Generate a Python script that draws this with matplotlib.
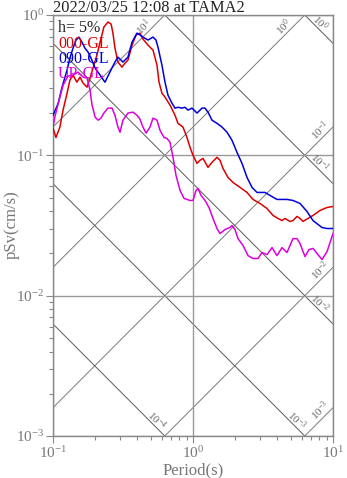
import numpy as np
import matplotlib
matplotlib.use("Agg")
import matplotlib.pyplot as plt
from matplotlib.ticker import LogLocator, NullFormatter

plt.rcParams["font.family"] = ["Liberation Serif", "DejaVu Serif"]
plt.rcParams["mathtext.fontset"] = "custom"
plt.rcParams["mathtext.rm"] = "Liberation Serif"
plt.rcParams["mathtext.it"] = "Liberation Serif:italic"

# ---- data (period in s, pSv in cm/s) ----
period_ns = [0.100, 0.105, 0.112, 0.118, 0.126, 0.132, 0.139, 0.148, 0.156, 0.164,
             0.175, 0.184, 0.193, 0.206, 0.217, 0.231, 0.247, 0.260, 0.268, 0.277,
             0.291, 0.311, 0.327, 0.343, 0.367, 0.392, 0.418, 0.439, 0.477, 0.518,
             0.553, 0.572, 0.600, 0.631, 0.685, 0.744, 0.781, 0.848, 0.906, 0.952,
             1.000, 1.068, 1.122, 1.179, 1.280, 1.367, 1.484, 1.560, 1.638, 1.778,
             1.931, 2.166, 2.431, 2.683, 3.011, 3.377, 3.728, 4.047, 4.322, 4.541,
             4.933, 5.179, 5.534, 5.812, 6.106, 6.628, 7.197, 8.076, 9.062, 10.0]
psv_ns = [0.156, 0.134, 0.159, 0.210, 0.277, 0.343, 0.373, 0.332, 0.361, 0.327,
          0.306, 0.355, 0.418, 0.518, 0.641, 0.821, 0.891, 0.862, 0.743, 0.581,
          0.462, 0.425, 0.454, 0.477, 0.610, 0.720, 0.743, 0.674, 0.610, 0.562,
          0.439, 0.332, 0.277, 0.260, 0.228, 0.193, 0.169, 0.159, 0.134, 0.114,
          0.100, 0.0876, 0.0921, 0.0951, 0.0821, 0.0891, 0.0968, 0.0921, 0.0807, 0.0696,
          0.0641, 0.0591, 0.0544, 0.0485, 0.0454, 0.0418, 0.0373, 0.0355, 0.0343, 0.0355,
          0.0338, 0.0343, 0.0367, 0.0355, 0.0338, 0.0355, 0.0373, 0.0405, 0.0425, 0.0432]

period_ew = [0.100, 0.109, 0.116, 0.120, 0.126, 0.132, 0.139, 0.146, 0.153, 0.161,
             0.169, 0.178, 0.187, 0.200, 0.217, 0.235, 0.255, 0.277, 0.291, 0.316,
             0.343, 0.367, 0.398, 0.418, 0.439, 0.477, 0.518, 0.544, 0.562, 0.600,
             0.631, 0.663, 0.708, 0.744, 0.781, 0.834, 0.877, 0.921, 0.984, 1.068,
             1.160, 1.218, 1.280, 1.367, 1.484, 1.612, 1.750, 1.899, 2.062, 2.239,
             2.431, 2.639, 2.866, 3.267, 3.548, 3.981, 4.692, 5.179, 5.812, 6.520,
             7.197, 8.345, 9.062, 10.0]
psv_ew = [0.193, 0.235, 0.306, 0.343, 0.405, 0.493, 0.581, 0.663, 0.696, 0.641,
          0.581, 0.544, 0.493, 0.418, 0.373, 0.332, 0.392, 0.462, 0.501, 0.462,
          0.501, 0.641, 0.743, 0.720, 0.696, 0.663, 0.696, 0.663, 0.591, 0.439,
          0.332, 0.268, 0.235, 0.217, 0.220, 0.217, 0.220, 0.210, 0.217, 0.200,
          0.217, 0.217, 0.203, 0.178, 0.169, 0.159, 0.146, 0.128, 0.105, 0.0876,
          0.0696, 0.0591, 0.0544, 0.0544, 0.0518, 0.0485, 0.0485, 0.0477, 0.0454, 0.0398,
          0.0343, 0.0306, 0.0301, 0.0301]

period_ud = [0.100, 0.103, 0.109, 0.118, 0.128, 0.139, 0.151, 0.164, 0.175, 0.184,
             0.190, 0.200, 0.210, 0.220, 0.231, 0.247, 0.264, 0.277, 0.291, 0.301,
             0.316, 0.343, 0.373, 0.398, 0.418, 0.439, 0.462, 0.493, 0.518, 0.553,
             0.581, 0.621, 0.652, 0.685, 0.720, 0.756, 0.808, 0.863, 0.952, 1.000,
             1.051, 1.086, 1.141, 1.218, 1.301, 1.389, 1.484, 1.560, 1.693, 1.838,
             1.899, 1.995, 2.096, 2.276, 2.471, 2.683, 2.913, 3.111, 3.377, 3.668,
             3.981, 4.322, 4.692, 5.179, 5.534, 5.812, 6.308, 6.738, 7.197, 7.687,
             8.345, 9.062, 10.0]
psv_ud = [0.159, 0.187, 0.235, 0.316, 0.367, 0.373, 0.392, 0.361, 0.355, 0.291,
          0.228, 0.187, 0.178, 0.184, 0.200, 0.217, 0.217, 0.193, 0.159, 0.146,
          0.178, 0.200, 0.203, 0.193, 0.181, 0.159, 0.144, 0.159, 0.184, 0.178,
          0.151, 0.134, 0.132, 0.124, 0.0968, 0.0720, 0.0562, 0.0493, 0.0477, 0.0477,
          0.0562, 0.0581, 0.0518, 0.0477, 0.0425, 0.0355, 0.0301, 0.0277, 0.0296, 0.0306,
          0.0316, 0.0296, 0.0255, 0.0228, 0.0193, 0.0184, 0.0184, 0.0203, 0.0196, 0.0220,
          0.0193, 0.0220, 0.0203, 0.0255, 0.0255, 0.0235, 0.0190, 0.0213, 0.0217, 0.0200,
          0.0181, 0.0206, 0.0277]

series_names = ["000-GL", "090-GL", "UP-GL"]
series_colors = ["#dd0000", "#0000dd", "#dd00dd"]

# tripartite grid: pseudo-acceleration (gal) and displacement (cm) levels
accel_levels = [1e-3, 1e-2, 1e-1, 1e0, 1e1, 1e2]
disp_levels = [1e-5, 1e-4, 1e-3, 1e-2, 1e-1, 1e0, 1e1]

TMIN, TMAX = 0.1, 10.0
SMIN, SMAX = 1e-3, 1.0


def _exp_label(v):
    return r"10$^{%d}$" % int(round(np.log10(v)))


fig = plt.figure(figsize=(3.47, 4.78), dpi=100)
ax = fig.add_axes([53 / 347, 1 - 436 / 478, 280 / 347, 421 / 478])
ax.set_xscale("log")
ax.set_yscale("log")
ax.set_xlim(TMIN, TMAX)
ax.set_ylim(SMIN, SMAX)

tgrid = np.logspace(-1, 1, 60)
for a in accel_levels:
    ax.plot(tgrid, a * tgrid / (2 * np.pi), color="#7a7a7a", lw=0.7, zorder=1)
    t_end = min(TMAX, 2 * np.pi * SMAX / a)
    s_end = a * t_end / (2 * np.pi)
    if t_end < TMIN or s_end < SMIN:
        continue
    off = (-13, -3) if t_end >= TMAX else (-21, -12)
    ax.annotate(_exp_label(a), (t_end, s_end), xytext=off, textcoords="offset pixels",
                rotation=45, ha="center", va="center", fontsize=8, color="#666666")

for d in disp_levels:
    ax.plot(tgrid, 2 * np.pi * d / tgrid, color="#5a5a5a", lw=0.7, zorder=1)
    s_right = 2 * np.pi * d / TMAX
    if s_right > SMAX:
        continue
    if s_right >= SMIN:
        t_end, s_end, off = TMAX, s_right, (-13, 21)
    else:
        t_end, s_end, off = 2 * np.pi * d / SMIN, SMIN, (-8, 16)
        if t_end < TMIN:
            continue
    ax.annotate(_exp_label(d), (t_end, s_end), xytext=off, textcoords="offset pixels",
                rotation=-45, ha="center", va="center", fontsize=8, color="#666666")

ax.grid(True, which="major", color="#9a9a9a", lw=1.0, zorder=1)

for per, val, col in zip([period_ns, period_ew, period_ud], [psv_ns, psv_ew, psv_ud], series_colors):
    ax.plot(per, val, color=col, lw=1.1, zorder=3)

for s in ax.spines.values():
    s.set_color("#888888")
    s.set_linewidth(1.0)

ax.xaxis.set_major_locator(LogLocator(base=10, numticks=5))
ax.yaxis.set_major_locator(LogLocator(base=10, numticks=5))
ax.xaxis.set_minor_locator(LogLocator(base=10, subs=np.arange(2, 10), numticks=20))
ax.yaxis.set_minor_locator(LogLocator(base=10, subs=np.arange(2, 10), numticks=20))
ax.xaxis.set_minor_formatter(NullFormatter())
ax.yaxis.set_minor_formatter(NullFormatter())
ax.tick_params(which="major", direction="out", length=5, width=0.8, color="#888888",
               labelcolor="#777777", labelsize=11, pad=1.5)
ax.tick_params(which="minor", direction="out", length=3, width=0.8, color="#888888")

# legend-like annotations
ax.text(0.018, 0.969, "h= 5%", transform=ax.transAxes, fontsize=11.5, color="#222222",
        va="center", ha="left", zorder=4)
for i, (name, col) in enumerate(zip(series_names, series_colors)):
    ax.text(0.018, 0.931 - i * 0.036, name, transform=ax.transAxes, fontsize=11.5,
            color=col, va="center", ha="left", zorder=4)

fig.text(53 / 347, 1 - 8 / 478, "2022/03/25 12:08 at TAMA2", fontsize=11.8, color="#222222",
         ha="left", va="center")
fig.text(193 / 347, 1 - 470 / 478, "Period(s)", fontsize=12, color="#777777",
         ha="center", va="center")
fig.text(12 / 347, 1 - 225 / 478, "pSv(cm/s)", fontsize=12, color="#777777",
         ha="center", va="center", rotation=90)

fig.savefig("out.png", dpi=100)
